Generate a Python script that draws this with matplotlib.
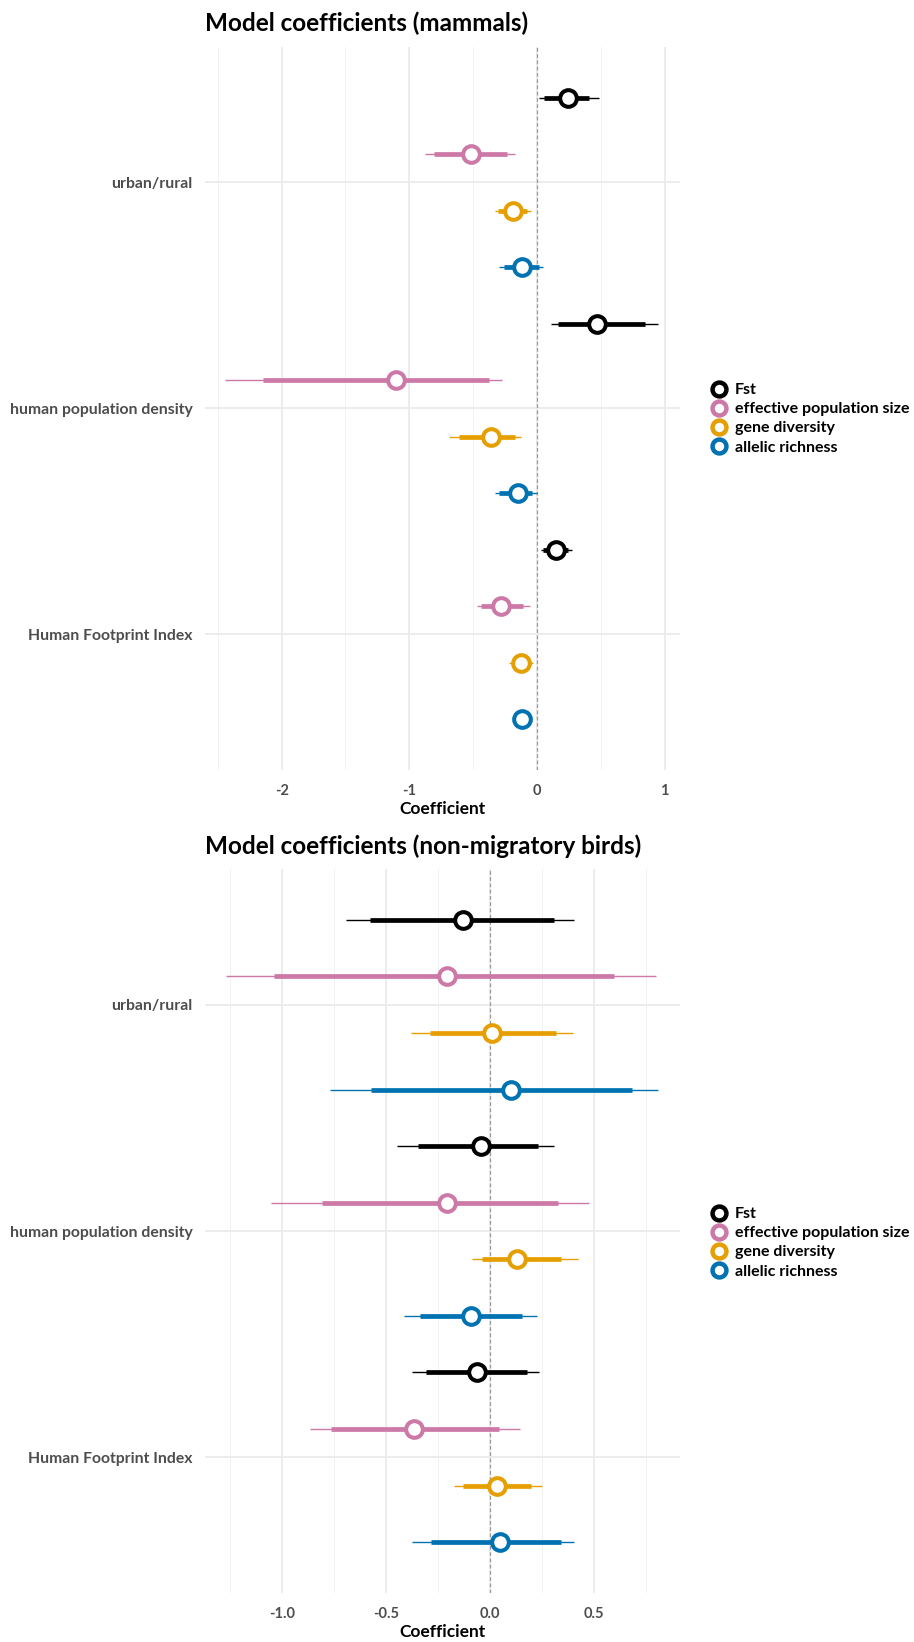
import matplotlib
matplotlib.use("Agg")
import matplotlib.pyplot as plt
from matplotlib.lines import Line2D
import numpy as np

plt.rcParams['font.family'] = ['Lato', 'DejaVu Sans']

categories = ["urban/rural", "human population density", "Human Footprint Index"]
series = ["Fst", "effective population size", "gene diversity", "allelic richness"]
colors = ["#000000", "#CC79A7", "#E69F00", "#0072B2"]

# mammals: rows per category, order of series
mam_point = [[0.24, -0.517, -0.19, -0.118],
             [0.468, -1.108, -0.358, -0.152],
             [0.149, -0.282, -0.128, -0.115]]
mam_thick_lo = [[0.058, -0.805, -0.309, -0.259],
                [0.167, -2.147, -0.612, -0.295],
                [0.05, -0.439, -0.199, -0.173]]
mam_thick_hi = [[0.41, -0.233, -0.081, 0.018],
                [0.842, -0.374, -0.173, -0.042],
                [0.24, -0.107, -0.05, -0.055]]
mam_thin_lo = [[0.016, -0.876, -0.332, -0.295],
               [0.11, -2.447, -0.69, -0.332],
               [0.029, -0.473, -0.217, -0.186]]
mam_thin_hi = [[0.486, -0.175, -0.05, 0.05],
               [0.946, -0.277, -0.128, -0.003],
               [0.272, -0.055, -0.029, -0.042]]

# non-migratory birds
bird_point = [[-0.128, -0.205, 0.011, 0.101],
              [-0.043, -0.208, 0.128, -0.093],
              [-0.061, -0.364, 0.035, 0.048]]
bird_thick_lo = [[-0.577, -1.038, -0.288, -0.571],
                 [-0.348, -0.809, -0.037, -0.337],
                 [-0.309, -0.764, -0.130, -0.282]]
bird_thick_hi = [[0.308, 0.596, 0.317, 0.681],
                 [0.232, 0.329, 0.34, 0.155],
                 [0.179, 0.043, 0.197, 0.343]]
bird_thin_lo = [[-0.694, -1.271, -0.380, -0.769],
                [-0.449, -1.053, -0.088, -0.413],
                [-0.375, -0.865, -0.173, -0.373]]
bird_thin_hi = [[0.404, 0.797, 0.397, 0.806],
                [0.309, 0.478, 0.421, 0.224],
                [0.234, 0.144, 0.248, 0.405]]

mam_ticks = [-2, -1, 0, 1]
mam_minor = [-2.5, -1.5, -0.5, 0.5]
bird_ticks = [-1.0, -0.5, 0.0, 0.5]
bird_minor = [-1.25, -0.75, -0.25, 0.25, 0.75]

W, H = 914, 1642
fig = plt.figure(figsize=(W / 100, H / 100), dpi=100)


def px_axes(left, top, right, bottom):
    return fig.add_axes([left / W, 1 - bottom / H, (right - left) / W, (bottom - top) / H])


offsets = [-0.375, -0.125, 0.125, 0.375]


def draw_panel(ax, title, pt, tlo, thi, nlo, nhi, ticks, minor, xlim, ticklabels):
    ax.set_xlim(*xlim)
    ax.set_ylim(3.6, 0.4)
    for v in minor:
        ax.axvline(v, color="#F2F2F2", lw=0.7, zorder=0)
    for v in ticks:
        ax.axvline(v, color="#EBEBEB", lw=1.3, zorder=0)
    for i in range(len(categories)):
        ax.axhline(i + 1, color="#EBEBEB", lw=1.3, zorder=0)
    ax.axvline(0, color="#9A9A9A", lw=0.9, ls=(0, (3, 2)), zorder=1)
    for i in range(len(categories)):
        for j in range(len(series)):
            y = i + 1 + offsets[j]
            c = colors[j]
            ax.plot([nlo[i][j], nhi[i][j]], [y, y], color=c, lw=1.0, solid_capstyle='butt', zorder=2)
            ax.plot([tlo[i][j], thi[i][j]], [y, y], color=c, lw=3.4, solid_capstyle='butt', zorder=3)
            ax.plot([pt[i][j]], [y], marker='o', ms=12, mfc='white', mec=c, mew=2.9, zorder=4, ls='none')
    ax.set_yticks(range(1, len(categories) + 1))
    ax.set_yticklabels(categories, fontsize=11.3, fontweight='bold', color='#4D4D4D')
    ax.set_xticks(ticks)
    ax.set_xticklabels(ticklabels, fontsize=10.5, fontweight='bold', color='#4D4D4D')
    ax.tick_params(axis='both', length=0)
    ax.tick_params(axis='x', pad=10)
    ax.tick_params(axis='y', pad=9)
    for s in ax.spines.values():
        s.set_visible(False)
    ax.set_xlabel("Coefficient", fontsize=12.5, fontweight='bold', labelpad=2)
    ax.set_title(title, loc='left', fontsize=17.5, fontweight='bold', pad=11)
    handles = [Line2D([], [], marker='o', ls='none', ms=10, mfc='white', mec=c, mew=3.2) for c in colors]
    return handles


legend_kw = dict(loc='upper left', frameon=False,
                 prop={'family': 'Lato', 'weight': 'bold', 'size': 11.5}, handletextpad=0.45,
                 labelspacing=0.31, handlelength=1.1, borderpad=0, borderaxespad=0)

ax1 = px_axes(205, 46.7, 680, 770)
h = draw_panel(ax1, "Model coefficients (mammals)", mam_point, mam_thick_lo, mam_thick_hi,
               mam_thin_lo, mam_thin_hi, mam_ticks, mam_minor, (-2.60, 1.12),
               ["-2", "-1", "0", "1"])
fig.legend(h, series, bbox_to_anchor=(710 / W, 1 - 383 / H), **legend_kw)

ax2 = px_axes(205, 869, 680, 1593)
h = draw_panel(ax2, "Model coefficients (non-migratory birds)", bird_point, bird_thick_lo, bird_thick_hi,
               bird_thin_lo, bird_thin_hi, bird_ticks, bird_minor, (-1.370, 0.913),
               ["-1.0", "-0.5", "0.0", "0.5"])
fig.legend(h, series, bbox_to_anchor=(710 / W, 1 - 1207 / H), **legend_kw)

fig.savefig("out.png", dpi=100, facecolor='white')
